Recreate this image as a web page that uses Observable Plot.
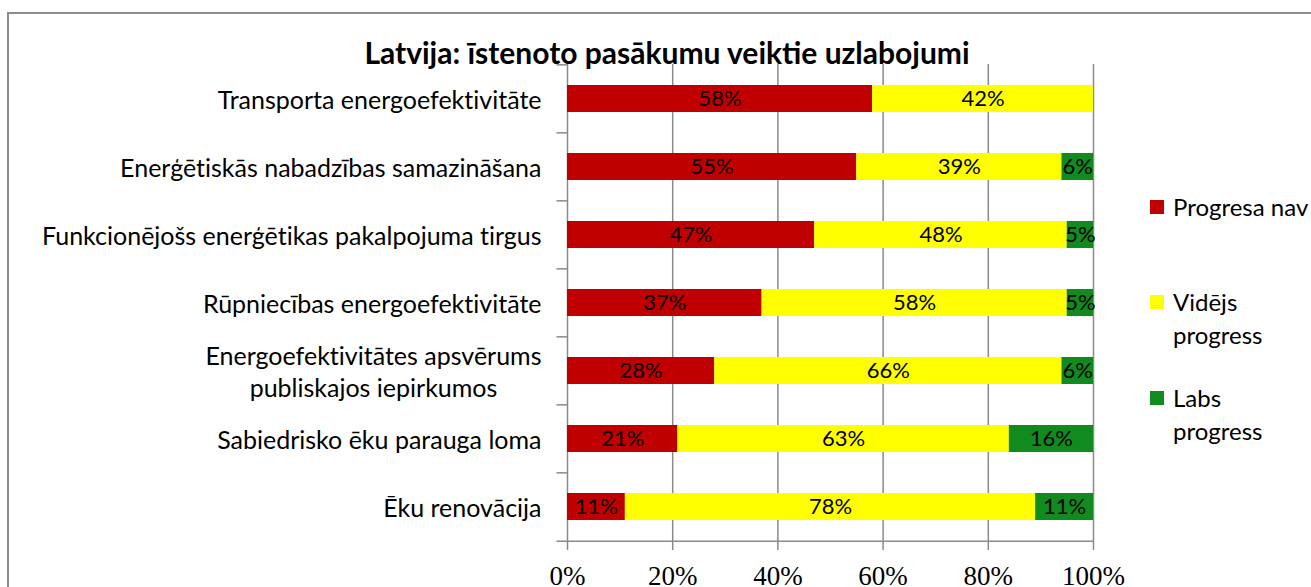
<!DOCTYPE html>
<html><head><meta charset="utf-8">
<script src="https://cdn.jsdelivr.net/npm/d3@7"></script>
<script src="https://cdn.jsdelivr.net/npm/@observablehq/plot@0.6"></script>
<style>
html,body{margin:0;padding:0;background:#fff;overflow:hidden;width:1311px;height:587px}
#wrap{position:relative;width:1311px;height:587px;overflow:hidden}
#wrap, #wrap *, #chart svg text, #chart svg tspan{font-variant-ligatures:none;font-feature-settings:"liga" 0,"clig" 0,"dlig" 0,"calt" 0}
#frame{position:absolute;left:7px;top:12px;width:1400px;height:700px;border:2px solid #8c8c8c;box-sizing:border-box}
#chart{position:absolute;left:0;top:0}
#title{position:absolute;left:0;width:1334px;top:34px;text-align:center;font:bold 30px Lato;color:#000;line-height:36px}
.leg{position:absolute;left:1150px;font:24px Lato;color:#000;line-height:33px}
.leg .sw{position:absolute;left:0;width:14px;height:14px;top:10px}
.leg .tx{position:absolute;left:23px;white-space:nowrap}
</style></head>
<body><div id="wrap"><div id="frame"></div><div id="chart"></div><div id="title"></div><div id="legend"></div></div>
<script>
const title = "Latvija: īstenoto pasākumu veiktie uzlabojumi";
const categories = [
  "Transporta energoefektivitāte",
  "Enerģētiskās nabadzības samazināšana",
  "Funkcionējošs enerģētikas pakalpojuma tirgus",
  "Rūpniecības energoefektivitāte",
  "Energoefektivitātes apsvērums\npubliskajos iepirkumos",
  "Sabiedrisko ēku parauga loma",
  "Ēku renovācija"
];
const seriesNames = ["Progresa nav", "Vidējs progress", "Labs progress"];
const legendLines = [["Progresa nav"], ["Vidējs", "progress"], ["Labs", "progress"]];
const seriesColors = ["#c00000", "#ffff00", "#118a1e"];
const progresaNav = [58, 55, 47, 37, 28, 21, 11];
const videjsProgress = [42, 39, 48, 58, 66, 63, 78];
const labsProgress = [0, 6, 5, 5, 6, 16, 11];
const xTicks = [0, 20, 40, 60, 80, 100];

const seriesValues = [progresaNav, videjsProgress, labsProgress];
const data = [];
seriesNames.forEach((s, si) => categories.forEach((c, ci) => data.push({cat: c, series: s, value: seriesValues[si][ci]})));

const W = 1311, H = 587;
const mL = 567, mR = W - 1093, mT = 64, mB = H - 542;
const step = (H - mT - mB) / categories.length;
const grid = "#8a8a8a";

const plot = Plot.plot({
  width: W, height: H,
  marginLeft: mL, marginRight: mR, marginTop: mT, marginBottom: mB,
  style: {fontFamily: "Lato", background: "transparent", overflow: "visible"},
  x: {domain: [0, 100], label: null},
  y: {domain: categories, paddingInner: 0.6, paddingOuter: 0.3, label: null},
  color: {domain: seriesNames, range: seriesColors},
  marks: [
    Plot.gridX(xTicks, {stroke: grid, strokeOpacity: 1, strokeWidth: 1.5}),
    Plot.ruleY([categories[categories.length - 1]], {x1: -2, x2: 100, stroke: grid, strokeWidth: 1.5, dy: step / 2}),
    Plot.ruleY(categories, {x1: -2, x2: 0, stroke: grid, strokeWidth: 1.5, dy: -step / 2}),
    Plot.barX(data, {x: "value", y: "cat", fill: "series"}),
    Plot.text(data.filter(d => d.value > 0), Plot.stackX({x: "value", y: "cat", text: d => d.value + "%", fontSize: 22, fill: "#000"})),
    Plot.axisX(xTicks, {tickSize: 8, tickPadding: 15, stroke: grid, strokeWidth: 1.5, fontSize: 27, fontFamily: "Liberation Serif", tickFormat: d => d + "%", fill: "#000", label: null}),
    Plot.axisY({tickSize: 0, tickPadding: 26, fontSize: 25, fill: "#000", lineHeight: 1.28, label: null})
  ]
});
document.getElementById("chart").appendChild(plot);
document.getElementById("title").textContent = title;

// center the two-line category label like the original
plot.querySelectorAll('g[aria-label="y-axis tick label"] text').forEach(t => {
  const spans = t.querySelectorAll("tspan");
  if (spans.length > 1) {
    const w = spans[0].getComputedTextLength();
    t.setAttribute("text-anchor", "middle");
    const m = /translate\(([-\d.]+),([-\d.]+)\)/.exec(t.getAttribute("transform"));
    if (m) t.setAttribute("transform", `translate(${+m[1] - w / 2},${m[2]})`);
  }
});

const legTops = [190, 285, 381];
const leg = document.getElementById("legend");
legendLines.forEach((lines, i) => {
  const d = document.createElement("div");
  d.className = "leg";
  d.style.top = legTops[i] + "px";
  d.innerHTML = `<div class="sw" style="background:${seriesColors[i]}"></div><div class="tx">${lines.join("<br>")}</div>`;
  leg.appendChild(d);
});
</script></body></html>
